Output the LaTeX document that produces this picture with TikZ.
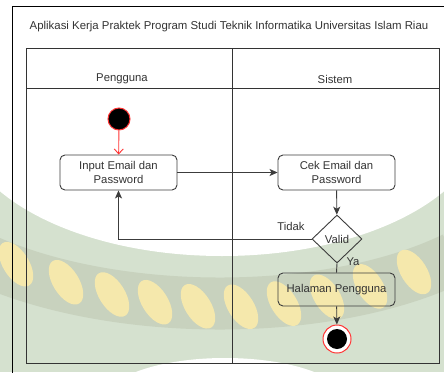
\documentclass[tikz,border=0pt]{standalone}
\usepackage{fontspec}
\setmainfont{Liberation Sans}
\usetikzlibrary{arrows.meta,shapes.geometric}
\definecolor{ink}{HTML}{333333}
\definecolor{edge}{HTML}{3C3C3C}
\definecolor{startred}{HTML}{FF3333}
\definecolor{wmgreen}{RGB}{213,225,207}
\definecolor{wmleaf}{RGB}{245,232,172}
\definecolor{wmrim}{RGB}{200,210,190}
\tikzset{
  lbl/.style={font=\fontsize{11.3}{13}\selectfont, text=ink},
  actbox/.style={draw=edge, line width=0.9pt, rounded corners=5pt,
    minimum width=117pt, minimum height=35pt, align=center, inner sep=1pt,
    font=\fontsize{11.3}{13.2}\selectfont, text=ink},
  decide/.style={draw=edge, line width=0.9pt, diamond, minimum width=50pt,
    minimum height=48pt, inner sep=0pt, font=\fontsize{11.3}{13}\selectfont, text=ink},
  flow/.style={draw=edge, line width=0.9pt, -{Stealth[length=8pt,width=7pt,inset=2pt]}},
  lane/.style={draw=ink, line width=1pt},
  leaf/.style={fill=wmleaf},
}
\begin{document}
\begin{tikzpicture}[x=1pt,y=-1pt]
\useasboundingbox (0,0) rectangle (444,372);
\fill[white] (0,0) rectangle (444,372);

% faint crest in the background
\fill[wmgreen] (0,190) rectangle (444,372);
\fill[white] (222,118) ellipse [x radius=262, y radius=138];
\draw[wmrim, line width=52pt]
  (-10,262) .. controls (120,318) and (330,318) .. (454,258);
\foreach \lx in {16,66,112,155,198,241,284,327,370,414}{
  \pgfmathsetmacro{\ly}{307-0.098*((\lx-225)/10)^2}
  \fill[leaf, rotate around={32:(\lx,\ly)}]
    (\lx,\ly) ellipse [x radius=13, y radius=25];
}
\fill[white] (225,402) ellipse [x radius=122, y radius=44];

% outer frame and title
\draw[black, line width=1pt] (12,373) -- (12,6) -- (445,6);
\node[font=\fontsize{11.4}{13}\selectfont, text=ink] (title) at (229,27)
  {Aplikasi Kerja Praktek Program Studi Teknik Informatika Universitas Islam Riau};

% swimlanes
\draw[lane] (26,48) rectangle (439,363);
\draw[lane] (26,88) -- (439,88);
\draw[lane] (232,48) -- (232,363);
\node[lbl] (laneA) at (122,79) {Pengguna};
\node[lbl] (laneB) at (335,79) {Sistem};

% activity nodes
\node[circle, fill=black, draw=startred, line width=1pt, minimum size=22pt,
  inner sep=0pt] (start) at (119,119) {};
\node[actbox] (input) at (118.5,172.5) {Input Email dan\\Password};
\node[actbox] (cek) at (336.5,172.5) {Cek Email dan\\Password};
\node[decide] (valid) at (337,239) {Valid};
\node[actbox, minimum height=33pt] (home) at (336.5,289.5) {Halaman Pengguna};
\node[circle, draw=startred, line width=1pt, fill=white, minimum size=28pt,
  inner sep=0pt] (stop) at (337,339) {};
\node[circle, fill=black, minimum size=20pt, inner sep=0pt] (stopdot) at (337,339) {};

% transitions
\draw[startred, line width=0.9pt, -{Straight Barb[length=5pt,width=9pt]}]
  (start) -- (input);
\draw[flow] (input) -- (cek);
\draw[flow] (cek) -- (valid);
\draw[flow] (valid.west) -- (input.south |- valid.west) -- (input.south);
\draw[draw=edge, line width=0.9pt] (valid.south) -- (home.north);
\draw[flow] (home) -- (stop);

% guard labels
\node[lbl] (no) at (291,226) {Tidak};
\node[lbl] (yes) at (353,262) {Ya};
\end{tikzpicture}
\end{document}
